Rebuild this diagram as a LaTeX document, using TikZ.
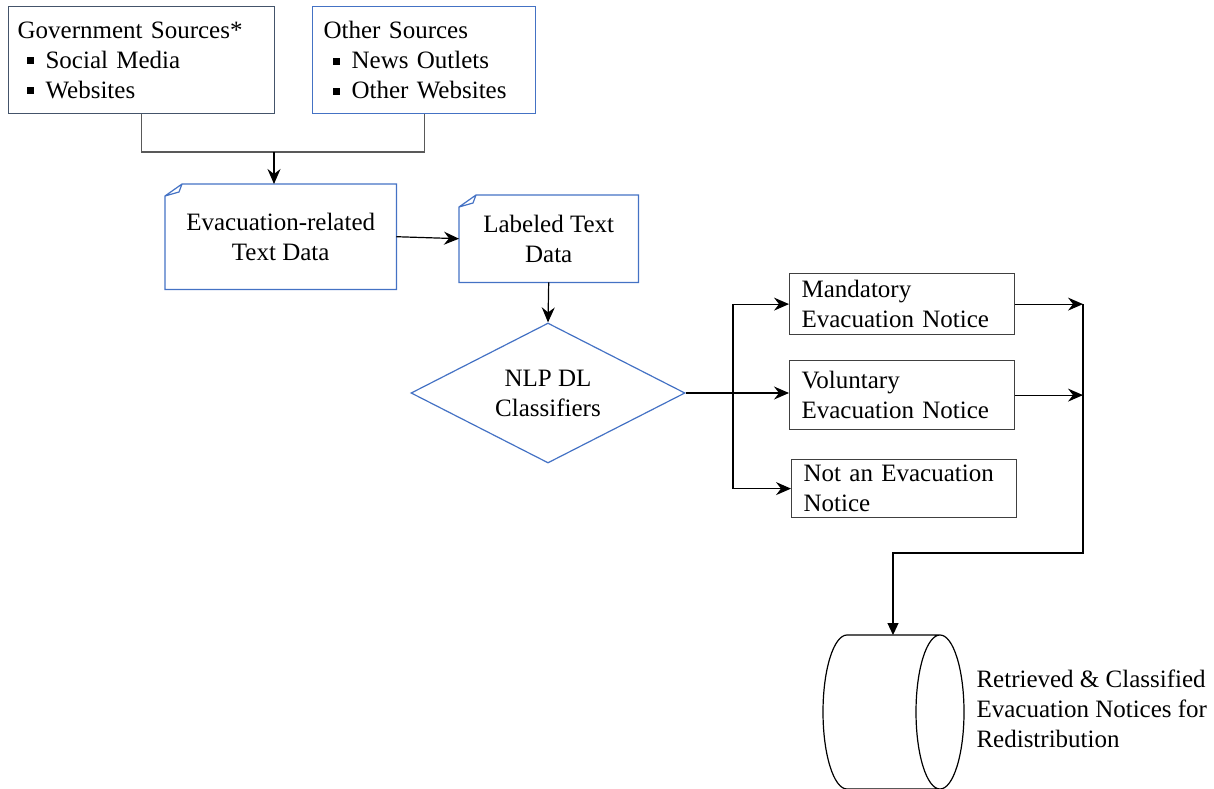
\documentclass[tikz,border=0pt]{standalone}
\usepackage{fontspec}
\setmainfont{Liberation Serif}
\usetikzlibrary{arrows.meta,shapes.geometric}
\definecolor{srcblue}{RGB}{68,84,106}
\definecolor{docblue}{RGB}{68,114,196}
\definecolor{boxgray}{RGB}{64,64,64}
\definecolor{linegray}{RGB}{89,89,89}
\newcommand{\sqbul}{\hspace*{9pt}\makebox[19pt][l]{\rule[4pt]{7pt}{7pt}}}

\begin{document}
\begin{tikzpicture}[x=1pt,y=-1pt,>={Stealth[length=15pt,width=13pt,inset=5pt]},font=\fontsize{25}{30}\selectfont,
src/.style={draw=srcblue,line width=1.2pt,anchor=north west,align=left,inner ysep=0pt,minimum height=107pt},
res/.style={draw=boxgray,line width=1.2pt,anchor=north west,align=left,inner xsep=12pt,inner ysep=0pt,text width=201pt},
doc/.style={anchor=north west,align=center,inner sep=0pt},
con/.style={line width=1.2pt}]
\useasboundingbox (0,0) rectangle (1214,788);
\node[src,text width=248pt,inner xsep=9pt] (gov) at (8,6) {Government Sources*\\\sqbul Social Media\\\sqbul Websites};
\node[src,draw=docblue,text width=201pt,inner xsep=11pt] (other) at (312,6) {Other Sources\\\sqbul News Outlets\\\sqbul Other Websites};
\node[doc,minimum width=231pt,minimum height=105pt] (evac) at (165,184) {Evacuation-related\\Text Data};
\node[doc,minimum width=179pt,minimum height=87pt] (lab) at (459,195) {Labeled Text\\Data\hspace*{0pt}};
\foreach \d in {evac,lab}
\draw[docblue,line width=1.2pt] ([yshift=-12pt]\d.north west) -- ([xshift=17pt]\d.north west) -- (\d.north east) -- (\d.south east) -- (\d.south west) -- cycle
([yshift=-12pt]\d.north west) -- ([xshift=14pt,yshift=-8pt]\d.north west) -- ([xshift=17pt]\d.north west);
\node[diamond,draw=docblue,line width=1.2pt,minimum width=274pt,minimum height=140pt,aspect=2,inner sep=0pt,align=center] (cls) at (548,393) {NLP DL\\Classifiers};
\node[res,minimum height=61pt] (mand) at (789,273) {Mandatory\\Evacuation Notice};
\node[res,minimum height=69pt] (vol) at (789,360) {Voluntary\\Evacuation Notice};
\node[res,minimum height=58pt] (notev) at (791,459) {Not an Evacuation\\Notice};
\draw[con] (847,635) -- (940,635) (847,789) -- (940,789)
(847,635) arc[start angle=90,end angle=270,x radius=24pt,y radius=77pt]
(940,712) ellipse[x radius=24pt,y radius=77pt];
\coordinate (store) at (893,635);
\node[anchor=west,align=left] (storetxt) at (973,709) {Retrieved \& Classified\\Evacuation Notices for\\Redistribution};
\coordinate (join) at (274,152);
\draw[con,linegray] (gov.south) |- (join) -| (other.south);
\draw[con,->] (join) -- (join |- evac.north);
\draw[con,->] (evac.east) -- (lab.west);
\draw[con,->] (lab.south) -- (cls.north);
\coordinate (split) at (733,393);
\draw[con,->] (cls.east) -- (cls.east -| vol.west);
\draw[con,->] (split) |- (mand.west);
\draw[con,->] (split) |- (notev.west);
\coordinate (merge) at (1083,553);
\draw[con,->] (mand.east) -- (mand.east -| merge);
\draw[con,->] (vol.east) -- (vol.east -| merge);
\draw[con,-{Triangle[length=12pt,width=11pt]}] (mand.east -| merge) -- (merge) -| (store);
\end{tikzpicture}
\end{document}
